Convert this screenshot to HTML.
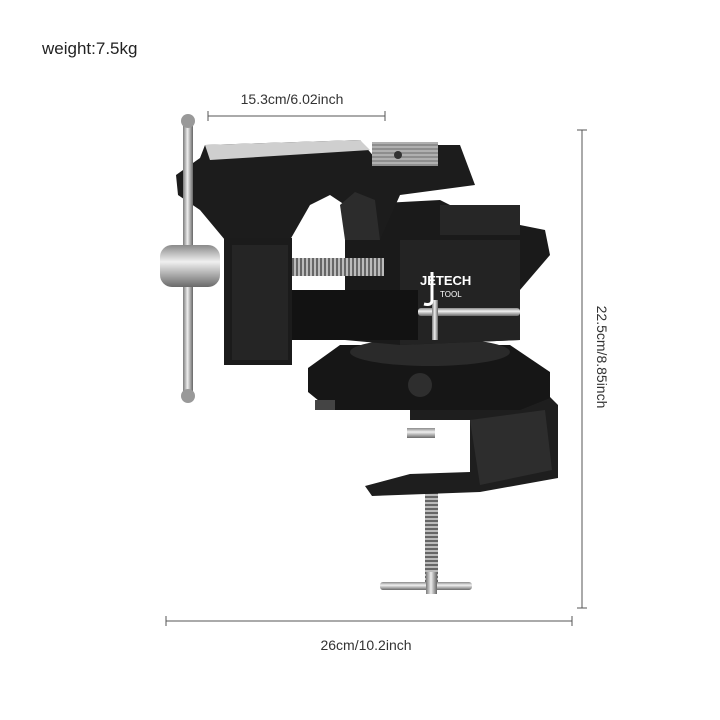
<!DOCTYPE html>
<html><head><meta charset="utf-8"><style>
html,body{margin:0;padding:0;background:#fff;}
svg{display:block;font-family:"Liberation Sans",sans-serif;}
</style></head><body>
<svg width="720" height="720" viewBox="0 0 720 720" xmlns="http://www.w3.org/2000/svg">
<defs>
<linearGradient id="sil" x1="0" y1="0" x2="0" y2="1">
<stop offset="0" stop-color="#8a8a8a"/><stop offset="0.4" stop-color="#f0f0f0"/><stop offset="1" stop-color="#6a6a6a"/></linearGradient>
<linearGradient id="silh" x1="0" y1="0" x2="1" y2="0">
<stop offset="0" stop-color="#7a7a7a"/><stop offset="0.45" stop-color="#eeeeee"/><stop offset="1" stop-color="#666"/></linearGradient>
<pattern id="thread" width="4" height="20" patternUnits="userSpaceOnUse">
<rect width="4" height="20" fill="#bbb"/><rect width="2" height="20" fill="#666"/></pattern>
<pattern id="threadv" width="20" height="4" patternUnits="userSpaceOnUse">
<rect width="20" height="4" fill="#bbb"/><rect width="20" height="2" fill="#666"/></pattern>
</defs>
<text x="42" y="54" font-size="17" fill="#222">weight:7.5kg</text>
<!-- dimension lines -->
<g stroke="#555" stroke-width="1">
<line x1="208" y1="116" x2="385" y2="116"/><line x1="208" y1="111" x2="208" y2="121"/><line x1="385" y1="111" x2="385" y2="121"/>
<line x1="582" y1="130" x2="582" y2="608"/><line x1="577" y1="130" x2="587" y2="130"/><line x1="577" y1="608" x2="587" y2="608"/>
<line x1="166" y1="621" x2="572" y2="621"/><line x1="166" y1="616" x2="166" y2="626"/><line x1="572" y1="616" x2="572" y2="626"/>
</g>
<text x="292" y="104" font-size="14" fill="#333" text-anchor="middle">15.3cm/6.02inch</text>
<text x="366" y="650" font-size="14" fill="#333" text-anchor="middle">26cm/10.2inch</text>
<text x="0" y="0" font-size="14" fill="#333" text-anchor="middle" transform="translate(597,357) rotate(90)">22.5cm/8.85inch</text>

<!-- clamp screw -->
<rect x="425" y="490" width="13" height="100" fill="url(#threadv)"/>
<rect x="380" y="582" width="92" height="8" rx="3" fill="url(#sil)"/>
<rect x="426" y="572" width="11" height="22" fill="url(#silh)"/>
<!-- clamp -->
<path d="M410 398 L545 392 L558 405 L558 478 L480 492 L372 496 L365 486 L410 474 L470 472 L470 420 L410 420 Z" fill="#1e1e1e"/>
<path d="M470 420 L545 410 L552 470 L480 485 Z" fill="#2d2d2d"/>
<rect x="407" y="428" width="28" height="10" fill="url(#sil)"/>
<!-- swivel base -->
<path d="M308 368 L340 345 L510 345 L550 372 L550 398 L520 410 L330 410 L308 392 Z" fill="#161616"/>
<ellipse cx="430" cy="352" rx="80" ry="14" fill="#2a2a2a"/>
<circle cx="420" cy="385" r="12" fill="#2e2e2e"/>
<rect x="315" y="400" width="20" height="10" fill="#444"/>
<!-- rear body -->
<path d="M345 205 L440 200 L460 210 L520 210 L520 225 L545 230 L550 255 L520 290 L520 340 L400 345 L345 340 Z" fill="#1a1a1a"/>
<rect x="440" y="205" width="80" height="30" fill="#262626"/>
<path d="M400 240 L520 240 L520 340 L400 345 Z" fill="#232323"/>
<!-- slide bar -->
<rect x="288" y="290" width="130" height="50" fill="#121212"/>
<!-- top body -->
<path d="M176 175 L200 158 L205 145 L360 140 L375 158 L395 145 L460 145 L475 185 L400 195 L380 240 L345 240 L345 205 L330 195 L310 205 L290 240 L225 240 L200 210 L178 195 Z" fill="#1c1c1c"/>
<path d="M205 145 L360 140 L370 150 L210 160 Z" fill="#cfcfcf"/>
<rect x="372" y="142" width="66" height="24" fill="#a9a9a9"/>
<rect x="372" y="142" width="66" height="24" fill="url(#threadv)" opacity="0.4"/>
<circle cx="398" cy="155" r="4" fill="#333"/>
<path d="M340 205 L355 192 L375 200 L380 240 L345 240 Z" fill="#2c2c2c"/>
<!-- screw -->
<rect x="286" y="258" width="98" height="18" fill="url(#thread)"/>
<!-- front jaw block -->
<rect x="224" y="238" width="68" height="127" fill="#1b1b1b"/>
<rect x="232" y="245" width="56" height="115" fill="#252525"/>
<!-- T handle -->
<rect x="183" y="118" width="10" height="282" rx="4" fill="url(#silh)"/>
<circle cx="188" cy="121" r="7" fill="#999"/>
<circle cx="188" cy="396" r="7" fill="#999"/>
<rect x="160" y="245" width="60" height="42" rx="12" fill="url(#sil)"/>
<!-- right small handle -->
<rect x="418" y="308" width="102" height="8" rx="3" fill="url(#sil)"/>
<rect x="432" y="300" width="6" height="40" fill="url(#silh)"/>
<!-- logo -->
<text x="420" y="285" font-size="13" font-weight="bold" fill="#fff">JETECH</text>
<text x="440" y="297" font-size="8" fill="#fff">TOOL</text>
<path d="M432 272 L432 300 Q432 306 424 304" stroke="#fff" stroke-width="3" fill="none"/>
</svg>
</body></html>
